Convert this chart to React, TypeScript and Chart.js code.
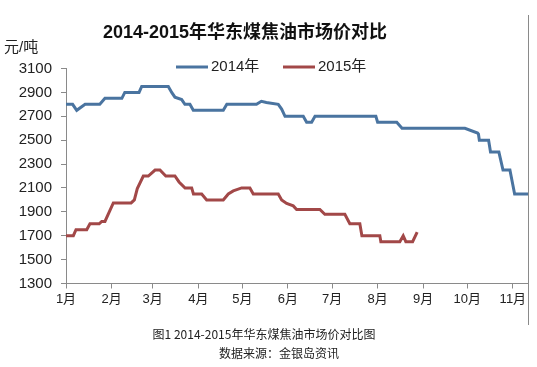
import React, { useEffect, useRef } from "react";
import { Chart, registerables } from "chart.js";

Chart.register(...registerables);

// ---- data (x = day of year, y = price 元/吨) ----
const chartTitle = "2014-2015年华东煤焦油市场价对比";
const unitLabel = "元/吨";
const captionLine1 = "图1 2014-2015年华东煤焦油市场价对比图";
const captionLine2 = "数据来源：金银岛资讯";

const monthDays = [0, 31, 59, 90, 120, 151, 181, 212, 243, 273, 304];
const monthLabels = ["1月", "2月", "3月", "4月", "5月", "6月", "7月", "8月", "9月", "10月", "11月"];

const yMin = 1300;
const yMax = 3100;
const yStep = 200;
const xMax = 314.3;

const seriesNames = ["2014年", "2015年"];
const seriesColors = ["#4A74A0", "#A24848"];

const days2014 = [0, 4.5, 7.3, 13, 23, 26.5, 38, 40, 49.7, 51.5, 69.6, 71.9, 74.1, 78.7, 80.9, 84.3, 86.6, 107, 109.4, 129.6, 132.9, 136.3, 144.4, 146.7, 149, 161.4, 163.7, 167.1, 169.4, 210.8, 212, 225, 228.6, 271.4, 280, 280.6, 281.2, 287.5, 288.8, 294.5, 297.3, 302, 305.2, 314.3];
const prices2014 = [2800, 2800, 2750, 2800, 2800, 2850, 2850, 2900, 2900, 2950, 2950, 2900, 2860, 2840, 2800, 2800, 2750, 2750, 2800, 2800, 2825, 2815, 2800, 2760, 2700, 2700, 2650, 2650, 2700, 2700, 2650, 2650, 2600, 2600, 2560, 2550, 2500, 2500, 2400, 2400, 2250, 2250, 2050, 2050];

const days2015 = [0, 5, 6.8, 14.1, 16.3, 22.6, 24.3, 26.5, 32.2, 44.3, 46.5, 48.5, 52.6, 56, 60.6, 63.9, 67.9, 74.1, 76.9, 81, 85.5, 86.7, 92.3, 95.7, 107, 110.4, 113.8, 119.5, 125.1, 127.4, 144.4, 146.7, 150.1, 154.6, 156.9, 172.7, 176.1, 189.7, 193.1, 199.9, 201.3, 213.5, 214.2, 227.1, 229.4, 231.2, 235.8, 238.9];
const prices2015 = [1700, 1700, 1750, 1750, 1800, 1800, 1820, 1820, 1975, 1975, 2000, 2095, 2200, 2200, 2250, 2250, 2200, 2200, 2150, 2100, 2100, 2050, 2050, 2000, 2000, 2050, 2075, 2100, 2100, 2050, 2050, 2000, 1970, 1950, 1920, 1920, 1880, 1880, 1800, 1800, 1700, 1700, 1650, 1650, 1700, 1650, 1650, 1730];

const FONT = '"Liberation Sans", "Noto Sans CJK SC", sans-serif';

const decoPlugin = {
  id: "deco",
  beforeDraw(chart: any) {
    const ctx = chart.ctx;
    ctx.save();
    ctx.fillStyle = "#ffffff";
    ctx.fillRect(0, 0, chart.width, chart.height);
    ctx.restore();
  },
  afterDraw(chart: any) {
    const ctx = chart.ctx;
    const area = chart.chartArea;
    ctx.save();
    // title
    ctx.fillStyle = "#111";
    ctx.textBaseline = "middle";
    ctx.textAlign = "center";
    ctx.font = "bold 18px " + FONT;
    ctx.fillText(chartTitle, 245, 33);
    // unit
    ctx.textAlign = "left";
    ctx.font = "15px " + FONT;
    ctx.fillStyle = "#222";
    ctx.fillText(unitLabel, 4, 48);
    // legend
    const legendX = [176, 283];
    const legendY = 67;
    chart.data.datasets.forEach((ds: any, i: number) => {
      const x0 = legendX[i];
      ctx.strokeStyle = ds.borderColor;
      ctx.lineWidth = 3;
      ctx.beginPath();
      ctx.moveTo(x0, legendY);
      ctx.lineTo(x0 + 32, legendY);
      ctx.stroke();
      ctx.fillStyle = "#222";
      ctx.font = "15px " + FONT;
      ctx.fillText(ds.label, x0 + 35, legendY);
    });
    // right border line
    ctx.strokeStyle = "#8a8a8a";
    ctx.lineWidth = 1;
    ctx.beginPath();
    ctx.moveTo(Math.round(area.right) + 0.5, 15);
    ctx.lineTo(Math.round(area.right) + 0.5, 325);
    ctx.stroke();
    // captions
    ctx.fillStyle = "#222";
    ctx.textAlign = "center";
    ctx.font = '12px "Noto Sans CJK SC", sans-serif';
    ctx.fillText(captionLine1, 264, 334);
    ctx.fillText(captionLine2, 279, 353);
    ctx.restore();
  },
};

export default function App() {
  const canvasRef = useRef<HTMLCanvasElement | null>(null);

  useEffect(() => {
    document.body.style.margin = "0";
    const canvas = canvasRef.current;
    if (!canvas) return;
    const toPoints = (xs: number[], ys: number[]) => xs.map((x, i) => ({ x, y: ys[i] }));
    const chart = new Chart(canvas, {
      type: "line",
      data: {
        datasets: [
          {
            label: seriesNames[0],
            data: toPoints(days2014, prices2014),
            borderColor: seriesColors[0],
            backgroundColor: seriesColors[0],
            borderWidth: 3,
            pointRadius: 0,
            tension: 0,
            fill: false,
          },
          {
            label: seriesNames[1],
            data: toPoints(days2015, prices2015),
            borderColor: seriesColors[1],
            backgroundColor: seriesColors[1],
            borderWidth: 3,
            pointRadius: 0,
            tension: 0,
            fill: false,
          },
        ],
      },
      options: {
        animation: false,
        responsive: false,
        maintainAspectRatio: false,
        devicePixelRatio: 1,
        layout: { padding: { left: 0, right: 9, top: 68.5, bottom: 0 } },
        plugins: {
          legend: { display: false },
          title: { display: false },
          tooltip: { enabled: false },
        },
        scales: {
          x: {
            type: "linear",
            min: 0,
            max: xMax,
            afterFit(scale: any) {
              scale.height = 83.5;
            },
            afterBuildTicks(scale: any) {
              scale.ticks = monthDays.map((v) => ({ value: v }));
            },
            ticks: {
              autoSkip: false,
              maxRotation: 0,
              padding: 3,
              color: "#222",
              font: { size: 13, family: FONT },
              callback: (value: any) => {
                const idx = monthDays.indexOf(Number(value));
                return idx >= 0 ? monthLabels[idx] : "";
              },
            },
            grid: { drawOnChartArea: false, drawTicks: true, tickLength: 5, color: "#8a8a8a" },
            border: { display: true, color: "#8a8a8a" },
          },
          y: {
            min: yMin,
            max: yMax,
            afterFit(scale: any) {
              scale.width = 66;
            },
            ticks: {
              stepSize: yStep,
              padding: 9,
              color: "#222",
              font: { size: 15, family: FONT },
              callback: (value: any) => String(value),
            },
            grid: { drawOnChartArea: false, drawTicks: true, tickLength: 5, color: "#8a8a8a" },
            border: { display: true, color: "#8a8a8a" },
          },
        },
      },
      plugins: [decoPlugin],
    } as any);
    return () => chart.destroy();
  }, []);

  return (
    <div style={{ width: 537, height: 367, position: "relative" }}>
      <canvas ref={canvasRef} width={537} height={367} style={{ display: "block", width: 537, height: 367 }} />
    </div>
  );
}
